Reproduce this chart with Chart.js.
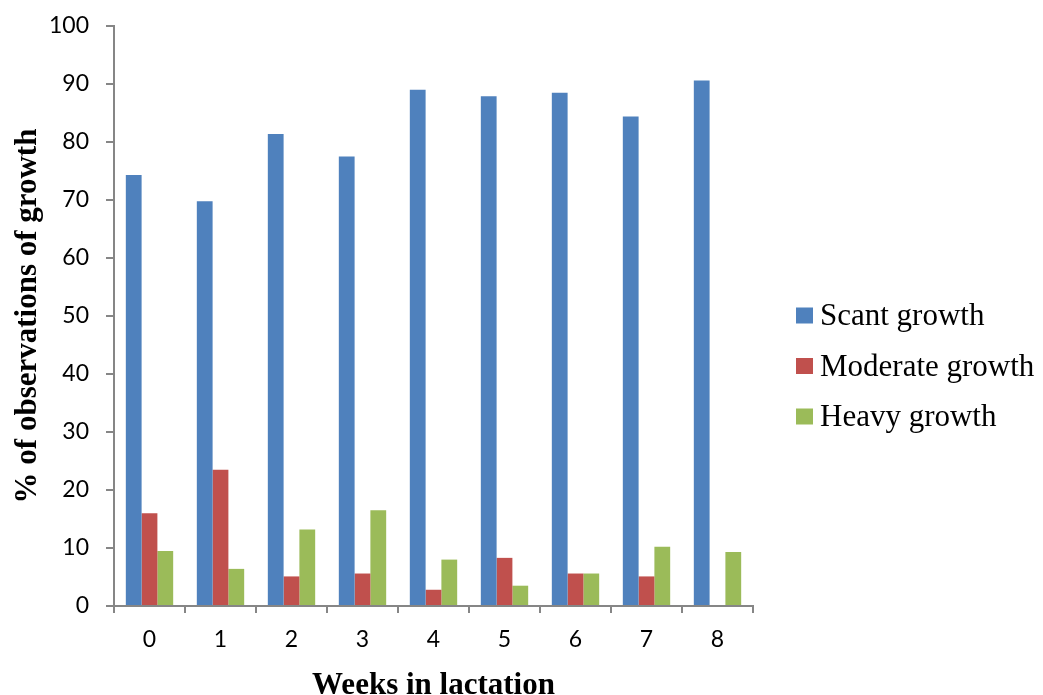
<!DOCTYPE html>
<html>
<head>
<meta charset="utf-8">
<script src="https://cdn.jsdelivr.net/npm/chart.js@4/dist/chart.umd.min.js"></script>
<style>
  html, body { margin: 0; padding: 0; background: #fff; }
  #wrap { width: 1043px; height: 695px; }
</style>
</head>
<body>
<div id="wrap"><canvas id="c" width="1043" height="695"></canvas></div>
<script>
// Weeks in lactation (categories)
const weeks = ['0', '1', '2', '3', '4', '5', '6', '7', '8'];
// % of observations per growth level
const scantGrowth    = [74.3, 69.8, 81.4, 77.5, 89.0, 87.9, 88.5, 84.4, 90.6];
const moderateGrowth = [16.0, 23.5, 5.1, 5.6, 2.8, 8.3, 5.6, 5.1, 0];
const heavyGrowth    = [9.5, 6.4, 13.2, 16.5, 8.0, 3.5, 5.6, 10.2, 9.3];
const seriesNames = ['Scant growth', 'Moderate growth', 'Heavy growth'];
const seriesColors = ['#4F81BD', '#C0504D', '#9BBB59'];

const axisGray = '#868686';
const tickFont = { family: 'Lato, "Open Sans", sans-serif', size: 23 };
const yTitleFont = { family: '"Liberation Serif", "Times New Roman", serif', size: 31, weight: 'bold', lineHeight: 1 };
const xTitleFont = { family: '"Liberation Serif", "Times New Roman", serif', size: 31, weight: 'bold', lineHeight: 0.6 };

// Legend drawn at the right-hand side of the canvas
const sideLegend = {
  id: 'sideLegend',
  afterDraw(chart) {
    const ctx = chart.ctx;
    ctx.save();
    ctx.font = '31px "Liberation Serif", "Times New Roman", serif';
    ctx.textBaseline = 'middle';
    ctx.textAlign = 'left';
    chart.data.datasets.forEach((ds, i) => {
      const cy = 315.5 + i * 50.5;
      ctx.fillStyle = ds.backgroundColor;
      ctx.fillRect(796, cy - 8, 17, 16);
      ctx.fillStyle = '#000';
      ctx.fillText(ds.label, 820, cy + 1.5);
    });
    ctx.restore();
  }
};

new Chart(document.getElementById('c'), {
  type: 'bar',
  data: {
    labels: weeks,
    datasets: [
      { label: seriesNames[0], data: scantGrowth,    backgroundColor: seriesColors[0] },
      { label: seriesNames[1], data: moderateGrowth, backgroundColor: seriesColors[1] },
      { label: seriesNames[2], data: heavyGrowth,    backgroundColor: seriesColors[2] }
    ]
  },
  options: {
    responsive: false,
    animation: false,
    layout: { padding: { top: 26, right: 290, bottom: 0, left: 0 } },
    datasets: { bar: { categoryPercentage: 0.667, barPercentage: 1.0 } },
    plugins: { legend: { display: false }, tooltip: { enabled: false } },
    scales: {
      x: {
        offset: true,
        afterFit(scale) { scale.height = 89; },
        grid: { offset: true, drawOnChartArea: false, drawTicks: true, tickLength: 7, color: axisGray, lineWidth: 2 },
        border: { display: true, color: axisGray, width: 2 },
        ticks: { color: '#000', font: tickFont, padding: 13 },
        title: { display: true, text: 'Weeks in lactation', color: '#000', font: xTitleFont, padding: { top: 0, bottom: 0 } }
      },
      y: {
        min: 0, max: 100,
        afterFit(scale) { scale.width = 114; scale.paddingTop = 0; scale.paddingBottom = 0; },
        grid: { drawOnChartArea: false, drawTicks: true, tickLength: 8, color: axisGray, lineWidth: 2 },
        border: { display: true, color: axisGray, width: 2 },
        ticks: { stepSize: 10, color: '#000', font: tickFont, padding: 17 },
        title: { display: true, text: '% of observations of growth', color: '#000', font: yTitleFont, padding: { top: 12, bottom: 0 } }
      }
    }
  },
  plugins: [sideLegend]
});
</script>
</body>
</html>
